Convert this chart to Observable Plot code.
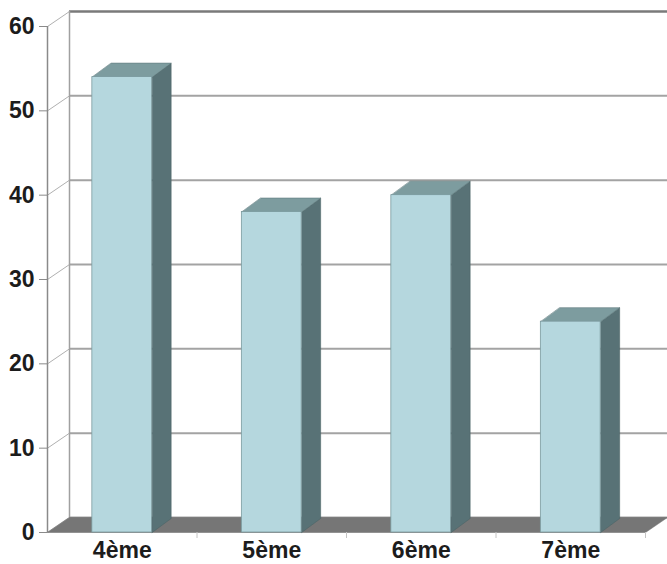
<!DOCTYPE html>
<html>
<head>
<meta charset="utf-8">
<script src="https://cdn.jsdelivr.net/npm/d3@7"></script>
<script src="https://cdn.jsdelivr.net/npm/@observablehq/plot@0.6"></script>
<style>
  html, body { margin: 0; padding: 0; background: #fff; }
  #chart { width: 667px; height: 564px; overflow: hidden; }
</style>
</head>
<body>
<div id="chart"></div>
<script>
// ---- data ----
const categories = ["4ème", "5ème", "6ème", "7ème"];
const values = [54, 38, 40, 25];
const yTicks = [0, 10, 20, 30, 40, 50, 60];
const catBounds = [1, 2, 3, 4];

// ---- layout ----
const W = 667, H = 564;
const mL = 47, mR = 22, mT = 26, mB = 32;
const kx = (W - mL - mR) / 4;      // px per x unit
const ky = (H - mT - mB) / 60;     // px per y unit
const DX = 22 / kx, DY = 15 / ky;  // wall depth in data units
const BDX = 19 / kx, BDY = 14 / ky; // bar depth in data units
const HALF = 0.2;                  // half bar width (x units)

const bars = categories.map((c, i) => ({c, i, v: values[i], x0: i + 0.5 - HALF, x1: i + 0.5 + HALF}));

const sidePts = bars.flatMap(b => [
  {k: b.c, x: b.x1, y: 0},
  {k: b.c, x: b.x1 + BDX, y: BDY},
  {k: b.c, x: b.x1 + BDX, y: b.v + BDY},
  {k: b.c, x: b.x1, y: b.v}
]);
const topPts = bars.flatMap(b => [
  {k: b.c, x: b.x0, y: b.v},
  {k: b.c, x: b.x1, y: b.v},
  {k: b.c, x: b.x1 + BDX, y: b.v + BDY},
  {k: b.c, x: b.x0 + BDX, y: b.v + BDY}
]);
const floorPts = [
  {x: 0, y: 0}, {x: 4, y: 0}, {x: 4 + DX, y: DY}, {x: DX, y: DY}
];

const font = "'Liberation Sans', Arial, sans-serif";

const chart = Plot.plot({
  width: W, height: H,
  marginLeft: mL, marginRight: mR, marginTop: mT, marginBottom: mB,
  style: {fontFamily: font, background: "#fff", overflow: "visible"},
  x: {type: "linear", domain: [0, 4], axis: null},
  y: {type: "linear", domain: [0, 60], axis: null},
  marks: [
    // back wall gridlines
    Plot.ruleY(yTicks.filter(t => t < 60), {y: t => t + DY, x1: DX, x2: 4 + DX, stroke: "#a3a3a3", strokeWidth: 2}),
    Plot.ruleY([60], {y: t => t + DY, x1: DX, x2: 4 + DX, stroke: "#7a7a7a", strokeWidth: 2.5}),
    // side wall diagonals
    Plot.link(yTicks, {x1: 0, y1: t => t, x2: DX, y2: t => t + DY, stroke: "#b0b0b0", strokeWidth: 1}),
    // back wall left edge
    Plot.ruleX([DX], {y1: DY, y2: 60 + DY, stroke: "#a0a0a0", strokeWidth: 1.5}),
    // front axis line
    Plot.ruleX([0], {y1: 0, y2: 60, stroke: "#8a8a8a", strokeWidth: 1.5}),
    // floor
    Plot.line(floorPts, {x: "x", y: "y", fill: "#767676", stroke: "#6a6a6a", strokeWidth: 0.5, curve: "linear-closed"}),
    // category boundary ticks
    Plot.ruleX(catBounds, {y1: 0, y2: -6 / ky, stroke: "#c4c4c4", strokeWidth: 1}),
    // bar side faces
    Plot.line(sidePts, {x: "x", y: "y", z: "k", fill: "#587276", stroke: "#4c6467", strokeWidth: 0.6, curve: "linear-closed"}),
    // bar top faces
    Plot.line(topPts, {x: "x", y: "y", z: "k", fill: "#7d9c9f", stroke: "#5f7b7e", strokeWidth: 0.6, curve: "linear-closed"}),
    // bar front faces
    Plot.rect(bars, {x1: "x0", x2: "x1", y1: 0, y2: "v", fill: "#b5d7de", stroke: "#7b9a9e", strokeWidth: 0.8}),
    // y axis
    Plot.axisY({ticks: yTicks, tickSize: 8, tickPadding: 5, stroke: "#8a8a8a", fontSize: 23, fontWeight: "bold", fill: "#1c1c1c", fontFamily: font}),
    // x axis labels
    Plot.axisX({ticks: bars.map(b => b.i + 0.5), tickFormat: (d) => categories[Math.floor(d)], tickSize: 0, tickPadding: 9, fontSize: 23, fontWeight: "bold", fill: "#1c1c1c", fontFamily: font})
  ]
});
document.getElementById("chart").appendChild(chart);
</script>
</body>
</html>
